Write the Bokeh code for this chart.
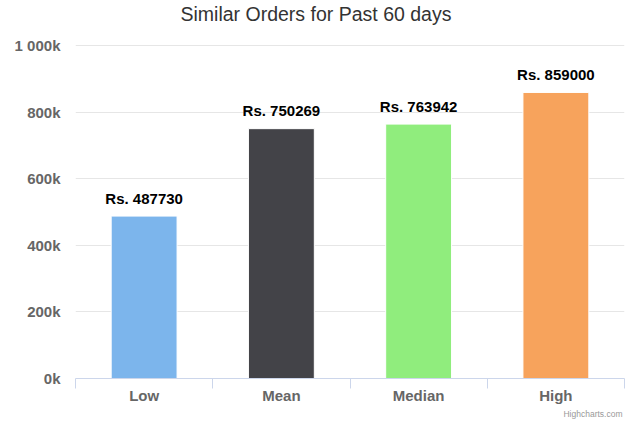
from bokeh.plotting import figure
from bokeh.models import Range1d, FixedTicker, Title, ColumnDataSource
from bokeh.core.properties import value
from bokeh.embed import file_html
from bokeh.resources import INLINE

# ---- data ----
categories = ["Low", "Mean", "Median", "High"]
amounts = [487730, 750269, 763942, 859000]
colors = ["#7cb5ec", "#434348", "#90ed7d", "#f7a35c"]
y_ticks = [0, 200000, 400000, 600000, 800000, 1000000]
y_tick_labels = ["0k", "200k", "400k", "600k", "800k", "1 000k"]
title_text = "Similar Orders for Past 60 days"
credits_text = "Highcharts.com"

FONT = "Liberation Sans"

n = len(categories)
centers = [i + 0.5 for i in range(n)]
bounds = list(range(n + 1))

src = ColumnDataSource(dict(
    x=centers,
    top=amounts,
    color=colors,
    label=[f"Rs. {a}" for a in amounts],
))

p = figure(width=631, height=424, output_backend="svg", toolbar_location=None,
           x_range=Range1d(0, n), y_range=Range1d(0, 1003000),
           min_border_left=75, min_border_right=7,
           min_border_top=44, min_border_bottom=46)
p.outline_line_color = None
p.background_fill_color = "white"
p.border_fill_color = "white"

p.vbar(x="x", top="top", width=0.48, bottom=0, fill_color="color",
       line_color="white", line_width=1, source=src)

p.text(x="x", y="top", text="label", source=src, text_align="center",
       text_baseline="alphabetic", y_offset=-18,
       text_font=value(FONT), text_font_size="15px", text_font_style="bold",
       text_color="#000000")

# x axis
xa = p.xaxis[0]
xa.ticker = FixedTicker(ticks=centers, minor_ticks=bounds)
xa.major_label_overrides = {c: lab for c, lab in zip(centers, categories)}
xa.major_tick_out = 0
xa.major_tick_in = 0
xa.minor_tick_out = 10
xa.minor_tick_in = 0
xa.minor_tick_line_color = "#ccd6eb"
xa.axis_line_color = "#ccd6eb"
xa.major_label_text_font = FONT
xa.major_label_text_font_size = "15px"
xa.major_label_text_font_style = "bold"
xa.major_label_text_color = "#666666"
xa.major_label_standoff = -2

# y axis
ya = p.yaxis[0]
ya.ticker = FixedTicker(ticks=y_ticks)
ya.major_label_overrides = {t: lab for t, lab in zip(y_ticks, y_tick_labels)}
ya.major_tick_out = 0
ya.major_tick_in = 0
ya.minor_tick_line_color = None
ya.axis_line_color = None
ya.major_label_text_font = FONT
ya.major_label_text_font_size = "15px"
ya.major_label_text_font_style = "bold"
ya.major_label_text_color = "#666666"
ya.major_label_standoff = 15

p.xgrid.grid_line_color = None
p.ygrid.grid_line_color = "#e6e6e6"

# spacer between frame and title, then title (outermost)
p.add_layout(Title(text=" ", text_font_size="1px", standoff=12,
                   text_color="white"), "above")
p.title = Title(text=title_text, align="left", offset=105,
                vertical_align="top", standoff=5,
                text_font=FONT, text_font_size="19.5px", text_font_style="normal",
                text_color="#333333")
p.add_layout(Title(text=credits_text, align="right", offset=2,
                   text_font=FONT, text_font_size="8.5px", text_font_style="normal",
                   text_color="#999999", standoff=0), "below")

open("out.html", "w").write(file_html(p, INLINE))
